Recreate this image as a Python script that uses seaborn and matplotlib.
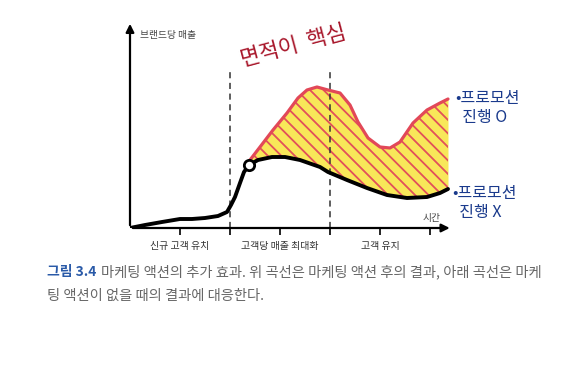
import numpy as np
import matplotlib
matplotlib.use("Agg")
import matplotlib.pyplot as plt
from matplotlib.transforms import IdentityTransform
import seaborn as sns
import pandas as pd

sns.set_theme(style="white")
plt.rcParams['font.family'] = ['Noto Sans CJK KR', 'DejaVu Sans']

# data
base_x = [0, 0.3, 0.64, 1.0, 1.24, 1.5, 1.76, 1.94, 2.02, 2.1, 2.2, 2.28, 2.38, 2.56, 2.84, 3.1,
          3.4, 3.8, 3.96, 4.34, 4.74, 5.14, 5.54, 5.94, 6.2, 6.36]
base_y = [0, 0.06, 0.12, 0.18, 0.18, 0.2, 0.24, 0.32, 0.46, 0.62, 0.9, 1.12, 1.26, 1.36, 1.42, 1.42,
          1.36, 1.22, 1.12, 0.96, 0.8, 0.66, 0.6, 0.62, 0.7, 0.78]
promo_x = [2.4, 2.6, 2.86, 3.14, 3.36, 3.54, 3.74, 3.96, 4.2, 4.4, 4.56, 4.76, 5.0, 5.2, 5.4,
           5.66, 5.94, 6.2, 6.36]
promo_y = [1.36, 1.62, 1.96, 2.3, 2.6, 2.76, 2.82, 2.76, 2.7, 2.46, 2.12, 1.8, 1.62, 1.6, 1.72,
           2.1, 2.36, 2.5, 2.58]
launch_x = [2.38]
launch_y = [1.26]
phase_bounds = [2, 4]
tick_pos = [1, 2, 3, 4, 5, 6]
tick_labels = ['신규 고객 유치', '', '고객당 매출 최대화', '', '고객 유지', '']

W, H = 569, 366
fig = plt.figure(figsize=(W/100, H/100), dpi=100)
ax = fig.add_axes([130/W, 1-228/H, 330/W, 213/H])
ax.set_xlim(0, 6.6)
ax.set_ylim(0, 4.26)
for s in ax.spines.values():
    s.set_visible(False)

# area between curves: yellow highlight + red diagonal hatching
gx = np.linspace(promo_x[0], promo_x[-1], 400)
top = np.interp(gx, promo_x, promo_y)
bot = np.interp(gx, base_x, base_y)
ax.fill_between(gx, bot, top, color='#f7e33c', alpha=0.85, linewidth=0, zorder=1)
clip = ax.fill_between(gx, bot, top, facecolor='none', linewidth=0, zorder=1)
clip_path = clip.get_paths()[0]
for c in np.arange(0, 700, 13.5):
    # hatch line from top-left to bottom-right, in pixel space
    ln, = ax.plot([c - 300, c + 100], [400, 0], color='#e2505a', linewidth=1.3,
                  transform=IdentityTransform(), zorder=2)
    ln.set_clip_path(clip_path, ax.transData)

df_b = pd.DataFrame({'x': base_x, 'y': base_y})
df_p = pd.DataFrame({'x': promo_x, 'y': promo_y})
sns.lineplot(data=df_b, x='x', y='y', ax=ax, color='black', linewidth=2.8, sort=False, zorder=4)
sns.lineplot(data=df_p, x='x', y='y', ax=ax, color='#e24858', linewidth=2.3, sort=False, zorder=3)
ax.scatter(launch_x, launch_y, s=55, facecolor='white', edgecolor='black', linewidth=2.0, zorder=5)

for b in phase_bounds:
    ax.plot([b, b], [0, 3.16], color='#333333', linestyle=(0, (4, 3)), linewidth=1.1, zorder=2)

# axes arrows
ax.annotate('', xy=(6.45, 0), xytext=(0, 0),
            arrowprops=dict(arrowstyle='-|>', color='black', lw=1.6, mutation_scale=12), annotation_clip=False)
ax.annotate('', xy=(0, 4.14), xytext=(0, 0),
            arrowprops=dict(arrowstyle='-|>', color='black', lw=1.6, mutation_scale=12), annotation_clip=False)

ax.set_xticks(tick_pos)
ax.set_xticklabels(tick_labels, fontsize=7.2, color='#333333')
ax.set_yticks([])
ax.tick_params(axis='x', direction='out', length=5, width=1.2, color='black', pad=4, bottom=True)
ax.set_xlabel('')
ax.set_ylabel('')

ax.text(0.2, 3.86, '브랜드당 매출', fontsize=7, color='#444444', va='center')
ax.text(6.22, 0.2, '시간', fontsize=7, color='#444444', ha='right', va='center')

# handwritten-style annotations
fig.text(293/W, 1-46/H, '면적이  핵심', fontsize=15.5, color='#a8162a', rotation=15,
         ha='center', va='center')
fig.text(455/W, 1-108/H, '•프로모션\n  진행 O', fontsize=11.5, color='#1a3a8c', ha='left', va='center', linespacing=1.2)
fig.text(452/W, 1-203/H, '•프로모션\n  진행 X', fontsize=11.5, color='#1a3a8c', ha='left', va='center', linespacing=1.2)

# caption
fig.text(47/W, 1-272/H, '그림 3.4', fontsize=10, color='#2a5aa8', fontweight='bold', va='center')
fig.text(101/W, 1-272/H, '마케팅 액션의 추가 효과. 위 곡선은 마케팅 액션 후의 결과, 아래 곡선은 마케',
         fontsize=10.3, color='#666666', va='center')
fig.text(47/W, 1-296/H, '팅 액션이 없을 때의 결과에 대응한다.', fontsize=10.3, color='#666666', va='center')

fig.savefig('out.png', dpi=100)
